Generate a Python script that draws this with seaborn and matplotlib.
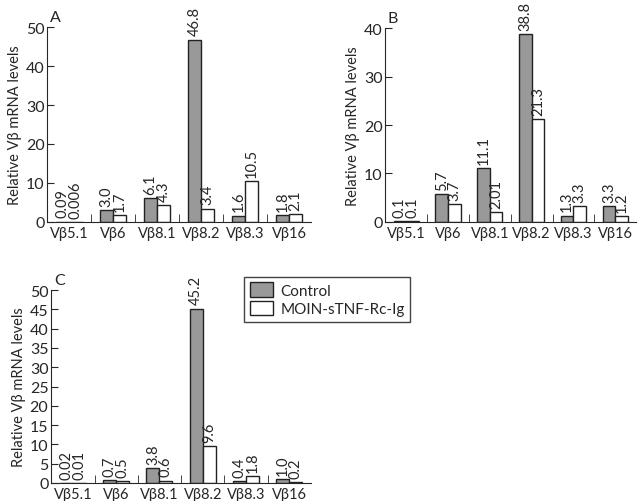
import numpy as np
import pandas as pd
import seaborn as sns
import matplotlib.pyplot as plt

# ============================================================
# DATA
# ============================================================

genes = ["Vβ5.1", "Vβ6", "Vβ8.1", "Vβ8.2", "Vβ8.3", "Vβ16"]
groups = ["Control", "MOIN-sTNF-Rc-Ig"]

# printed labels above the bars (strings keep the original decimals)
a_control = ["0.09", "3.0", "6.1", "46.8", "1.6", "1.8"]
a_moin = ["0.006", "1.7", "4.3", "3.4", "10.5", "2.1"]

b_control = ["0.1", "5.7", "11.1", "38.8", "1.3", "3.3"]
b_moin = ["0.1", "3.7", "2.01", "21.3", "3.3", "1.2"]

c_control = ["0.02", "0.7", "3.8", "45.2", "0.4", "1.0"]
c_moin = ["0.01", "0.5", "0.6", "9.6", "1.8", "0.2"]

# ============================================================
# STYLE
# ============================================================

sns.set_style("ticks")
plt.rcParams["font.family"] = ["Lato", "DejaVu Sans"]
plt.rcParams["xtick.direction"] = "in"
plt.rcParams["ytick.direction"] = "in"

GRAY = "#999999"
palette = {groups[0]: GRAY, groups[1]: "white"}
FS = 10.5


def make_df(control, moin):
    rows = []
    for g, c, m in zip(genes, control, moin):
        rows.append({"gene": g, "group": groups[0], "value": float(c), "label": c})
        rows.append({"gene": g, "group": groups[1], "value": float(m), "label": m})
    return pd.DataFrame(rows)


def panel(ax, control, moin, ymax, ystep, letter):
    df = make_df(control, moin)
    sns.barplot(data=df, x="gene", y="value", hue="group", order=genes,
                hue_order=groups, palette=palette, width=0.6, gap=0,
                edgecolor="#222222", linewidth=1, legend=False, ax=ax)

    for cont, labels in zip(ax.containers, [control, moin]):
        ax.bar_label(cont, labels=labels, rotation=90, padding=3,
                     fontsize=FS, clip_on=False)

    ax.set_xlim(-0.5, len(genes) - 0.5)
    ax.set_ylim(0, ymax)
    ax.set_yticks(np.arange(0, ymax + 0.1, ystep))
    ax.set_xlabel("")
    ax.set_ylabel("Relative Vβ mRNA levels", fontsize=FS, labelpad=3)
    ax.tick_params(axis="x", length=0, labelsize=FS, pad=3)
    ax.tick_params(axis="y", length=5, labelsize=FS + 1, pad=2)

    # small separators between groups
    ax.set_xticks(np.arange(0.5, len(genes) - 0.5, 1), minor=True)
    ax.tick_params(axis="x", which="minor", length=6, direction="in")

    sns.despine(ax=ax)
    ax.text(0.01, 1.015, letter, transform=ax.transAxes, fontsize=FS + 1,
            ha="left", va="bottom")


# ============================================================
# FIGURE
# ============================================================

fig = plt.figure(figsize=(6.4, 5.02), dpi=100)

ax_a = fig.add_axes([0.074, 0.556, 0.412, 0.388])
ax_b = fig.add_axes([0.602, 0.556, 0.392, 0.386])
ax_c = fig.add_axes([0.080, 0.036, 0.406, 0.384])

panel(ax_a, a_control, a_moin, 50, 10, "A")
panel(ax_b, b_control, b_moin, 40, 10, "B")
panel(ax_c, c_control, c_moin, 50, 5, "C")

handles = [plt.Rectangle((0, 0), 1, 1, facecolor=palette[g], edgecolor="#222222")
           for g in groups]
leg = fig.legend(handles, groups, loc="upper left",
                 bbox_to_anchor=(0.370, 0.462), fontsize=FS + 0.5,
                 fancybox=False, framealpha=1, edgecolor="#444444",
                 handlelength=1.5, handleheight=1.1, borderpad=0.35,
                 labelspacing=0.2, handletextpad=0.5)

fig.savefig("out.png", dpi=100)
